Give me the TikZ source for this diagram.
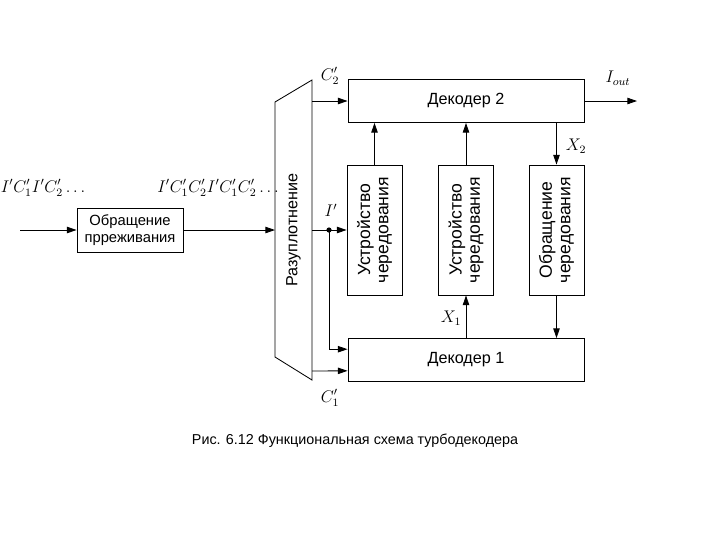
\documentclass[tikz,border=0pt]{standalone}
\usepackage{fontspec}
\setmainfont{Liberation Sans}
\usepackage{tikz}
\usetikzlibrary{arrows.meta,positioning}

\begin{document}
\begin{tikzpicture}[
x=0.025cm, y=-0.025cm,
line width=0.6pt,
font=\fontsize{10.5}{12}\selectfont,
block/.style={draw, align=center, inner sep=2pt},
vblock/.style={draw, rotate=90, align=center, minimum width=3.25cm, minimum height=1.375cm, inner sep=1pt, font=\fontsize{12.5}{13}\selectfont},
arrow/.style={-{Triangle[length=2.4mm,width=1.6mm]}},
sig/.style={font=\fontsize{12}{14}\selectfont}
]
\useasboundingbox (0,0) rectangle (720,540);

% demultiplexer
\coordinate (dmxTL) at (275,102);
\coordinate (dmxTR) at (312,80);
\coordinate (dmxBR) at (312,380);
\coordinate (dmxBL) at (275,357);
\draw (dmxTL) -- (dmxTR) -- (dmxBR) -- (dmxBL) -- cycle;
\node[rotate=90, font=\fontsize{11.5}{13}\selectfont] (dmxlbl) at (293.5,230) {Разуплотнение};
\coordinate (dmxL) at (275,230);
\coordinate (dmxC2) at (312,101);
\coordinate (dmxI) at (312,230);
\coordinate (dmxC1) at (312,371);

% blocks
\node[block, minimum width=2.65cm, minimum height=1.1cm] (deperm) at (130,230) {Обращение\\прреживания};
\node[block, minimum width=5.9cm, minimum height=1.075cm, font=\fontsize{11.5}{13}\selectfont] (dec2) at (466,101) {Декодер 2};
\node[block, minimum width=5.9cm, minimum height=1.075cm, font=\fontsize{11.5}{13}\selectfont] (dec1) at (466,360) {Декодер 1};
\node[vblock] (il1) at (374.5,230) {Устройство\\чередования};
\node[vblock] (il2) at (466,230) {Устройство\\чередования};
\node[vblock] (deint) at (556.5,230) {Обращение\\чередования};

% input
\coordinate (in) at (20,230);
\draw[arrow] (in) -- (deperm);
\draw[arrow] (deperm) -- (dmxL);

% demux outputs
\draw[arrow] (dmxC2) -- (dmxC2 -| dec2.west);
\draw[arrow] (dmxI) -- (il1.north);
\coordinate (split) at (329,230);
\fill (split) circle (2.6);
\draw[arrow] (split) |- ([yshift=0.27cm]dec1.west);
\draw[arrow] (dmxC1) -- ([yshift=-0.27cm]dec1.west);

% feedback
\draw[arrow] (il1.east) -- (il1.east |- dec2.south);
\draw[arrow] (il2.east) -- (il2.east |- dec2.south);
\draw[arrow] (il2.west |- dec1.north) -- (il2.west);
\draw[arrow] (deint.east |- dec2.south) -- (deint.east);
\draw[arrow] (deint.west) -- (deint.west |- dec1.north);

% output
\coordinate (out) at (637,101);
\draw[arrow] (dec2) -- (out);

% labels
\node[sig] (lblin) at (43,188) {$I'C_1'I'C_2'\ldots$};
\node[sig] (lblmid) at (218,188) {$I'C_1'C_2'I'C_1'C_2'\ldots$};
\node[sig] (lblC2) at (330,76) {$C_2'$};
\node[sig] (lblC1) at (330,398) {$C_1'$};
\node[sig] (lblI) at (331,210) {$I'$};
\node[sig] (lblout) at (618,78) {$I_{out}$};
\node[sig] (lblX2) at (576,146) {$X_2$};
\node[sig] (lblX1) at (451,318) {$X_1$};

\node[font=\fontsize{10.2}{12}\selectfont] (caption) at (355,441) {Рис. 6.12 Функциональная схема турбодекодера};
\end{tikzpicture}
\end{document}
